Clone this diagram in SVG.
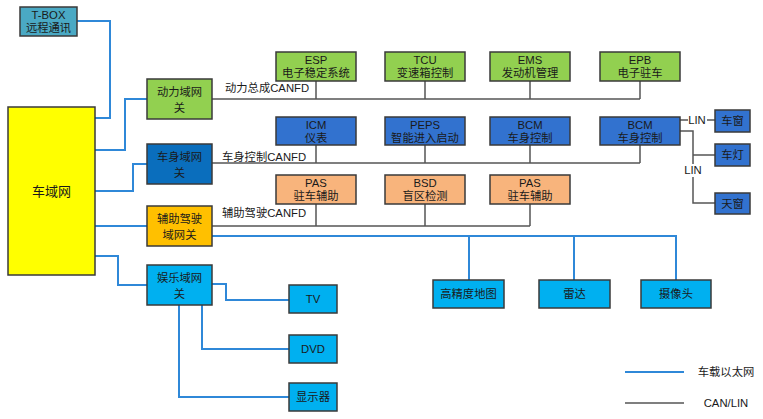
<svg xmlns="http://www.w3.org/2000/svg" width="763" height="419" viewBox="0 0 763 419">
<style>
text{font-family:"Liberation Sans","Noto Sans CJK SC",sans-serif;font-size:11.3px;fill:#1a1a1a;text-anchor:middle}
.lbl{font-size:11.3px;text-anchor:start}
.n{stroke:#3a3a3a;stroke-width:1.5}
.eth{fill:none;stroke:#2f88d8;stroke-width:2}
.can{fill:none;stroke:#555;stroke-width:1.5}
.g{fill:#92d050}.b{fill:#3272cf}.o{fill:#f8b47c}.c{fill:#00b0f0}
</style>
<g id="connectors">
<path class="eth" d="M77 21H110V118H95"/>
<path class="eth" d="M95 150H125V99H147"/>
<path class="eth" d="M95 191H133V164H147"/>
<path class="eth" d="M95 226H147"/>
<path class="eth" d="M95 256H118V285H147"/>
<path class="eth" d="M212 236H676V280M469 236V280M574 236V280"/>
<path class="eth" d="M212 284H226V300H289"/>
<path class="eth" d="M202 305V349H289"/>
<path class="eth" d="M179 305V397H289"/>
<path class="can" d="M212 99H640M316 81V99M425 81V99M530 81V99M640 81V99"/>
<path class="can" d="M212 163H640M316 145V163M425 145V163M530 145V163M640 145V163"/>
<path class="can" d="M212 226H530M316 204V226M425 204V226M530 204V226"/>
<path class="can" d="M680 120H688M707 120H715"/>
<path class="can" d="M680 131H693V164M693 155H715M693 177V203H715"/>
<text class="lbl" x="225" y="92">动力总成CANFD</text>
<text class="lbl" x="222" y="161">车身控制CANFD</text>
<text class="lbl" x="222" y="217">辅助驾驶CANFD</text>
<text x="697" y="124">LIN</text>
<text x="693" y="174">LIN</text>
</g>
<g id="tbox"><rect class="n" x="20" y="7" width="57" height="29" fill="#4aa9c4"/><text x="48.5" y="19">T-BOX</text><text x="48.5" y="32">远程通讯</text></g>
<g id="cheyuwang"><rect class="n" x="8" y="107" width="87" height="168" fill="#ffff00"/><text x="51.5" y="196" style="font-size:13px">车域网</text></g>
<g id="dongli"><rect class="n g" x="147" y="79" width="65" height="40"/><text x="179.5" y="96">动力域网</text><text x="179.5" y="112">关</text></g>
<g id="cheshen"><rect class="n" x="147" y="144" width="65" height="40" fill="#0a6ebd"/><text x="179.5" y="161">车身域网</text><text x="179.5" y="177">关</text></g>
<g id="fuzhu"><rect class="n" x="147" y="206" width="65" height="40" fill="#ffc000"/><text x="179.5" y="223">辅助驾驶</text><text x="179.5" y="239">域网关</text></g>
<g id="yule"><rect class="n c" x="147" y="265" width="65" height="40"/><text x="179.5" y="282">娱乐域网</text><text x="179.5" y="298">关</text></g>
<g id="esp"><rect class="n g" x="276" y="52" width="80" height="29"/><text x="316" y="64">ESP</text><text x="316" y="77">电子稳定系统</text></g>
<g id="tcu"><rect class="n g" x="385" y="52" width="80" height="29"/><text x="425" y="64">TCU</text><text x="425" y="77">变速箱控制</text></g>
<g id="ems"><rect class="n g" x="490" y="52" width="80" height="29"/><text x="530" y="64">EMS</text><text x="530" y="77">发动机管理</text></g>
<g id="epb"><rect class="n g" x="600" y="52" width="80" height="29"/><text x="640" y="64">EPB</text><text x="640" y="77">电子驻车</text></g>
<g id="icm"><rect class="n b" x="276" y="117" width="80" height="28"/><text x="316" y="129">ICM</text><text x="316" y="142">仪表</text></g>
<g id="peps"><rect class="n b" x="385" y="117" width="80" height="28"/><text x="425" y="129">PEPS</text><text x="425" y="142">智能进入启动</text></g>
<g id="bcm1"><rect class="n b" x="490" y="117" width="80" height="28"/><text x="530" y="129">BCM</text><text x="530" y="142">车身控制</text></g>
<g id="bcm2"><rect class="n b" x="600" y="117" width="80" height="28"/><text x="640" y="129">BCM</text><text x="640" y="142">车身控制</text></g>
<g id="chechuang"><rect class="n b" x="715" y="110" width="35" height="22"/><text x="732.5" y="125">车窗</text></g>
<g id="chedeng"><rect class="n b" x="715" y="144" width="35" height="22"/><text x="732.5" y="159">车灯</text></g>
<g id="tianchuang"><rect class="n b" x="715" y="193" width="35" height="21"/><text x="732.5" y="208">天窗</text></g>
<g id="pas1"><rect class="n o" x="276" y="175" width="80" height="29"/><text x="316" y="187">PAS</text><text x="316" y="200">驻车辅助</text></g>
<g id="bsd"><rect class="n o" x="385" y="175" width="80" height="29"/><text x="425" y="187">BSD</text><text x="425" y="200">盲区检测</text></g>
<g id="pas2"><rect class="n o" x="490" y="175" width="80" height="29"/><text x="530" y="187">PAS</text><text x="530" y="200">驻车辅助</text></g>
<g id="map"><rect class="n c" x="433" y="280" width="71" height="28"/><text x="468.5" y="298">高精度地图</text></g>
<g id="radar"><rect class="n c" x="539" y="280" width="71" height="28"/><text x="574.5" y="298">雷达</text></g>
<g id="camera"><rect class="n c" x="641" y="280" width="70" height="28"/><text x="676" y="298">摄像头</text></g>
<g id="tv"><rect class="n c" x="289" y="285" width="48" height="28"/><text x="313" y="303">TV</text></g>
<g id="dvd"><rect class="n c" x="289" y="335" width="48" height="28"/><text x="313" y="353">DVD</text></g>
<g id="display"><rect class="n c" x="289" y="383" width="48" height="28"/><text x="313" y="401">显示器</text></g>
<g id="legend">
<path class="eth" d="M625 372H684"/>
<path class="can" d="M625 403H684"/>
<text x="726" y="376">车载以太网</text>
<text x="726" y="407">CAN/LIN</text>
</g>
</svg>
